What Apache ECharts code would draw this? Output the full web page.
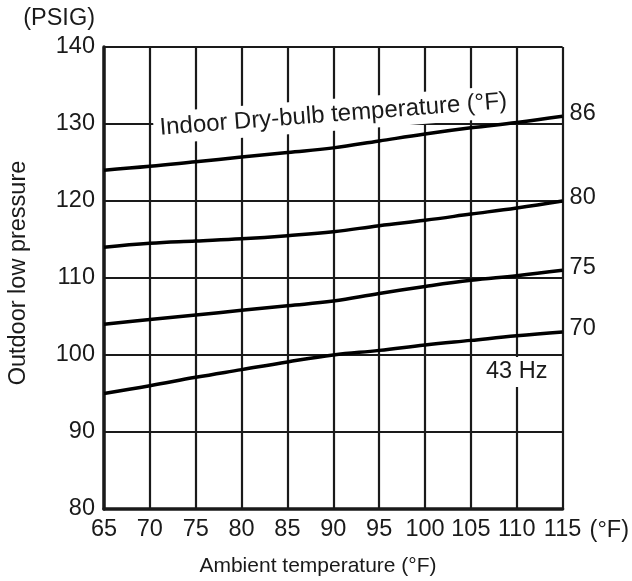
<!DOCTYPE html>
<html>
<head>
<meta charset="utf-8">
<script src="https://cdn.jsdelivr.net/npm/echarts@6/dist/echarts.min.js"></script>
<style>html,body{margin:0;padding:0;background:#fff;}#c{width:632px;height:581px;}</style>
</head>
<body>
<div id="c"></div>
<script>
const ambient = [65, 70, 75, 80, 85, 90, 95, 100, 105, 110, 115];
const xTicks = [65, 70, 75, 80, 85, 90, 95, 100, 105, 110, 115];
const yTicks = [80, 90, 100, 110, 120, 130, 140];
const indoorLabels = ['86', '80', '75', '70'];
const p86 = [124.0, 124.5, 125.1, 125.7, 126.3, 126.9, 127.8, 128.7, 129.5, 130.2, 131.0];
const p80 = [114.0, 114.5, 114.8, 115.1, 115.5, 116.0, 116.8, 117.5, 118.3, 119.1, 120.0];
const p75 = [104.0, 104.6, 105.2, 105.8, 106.4, 107.0, 108.0, 108.9, 109.7, 110.3, 111.0];
const p70 = [95.0, 96.0, 97.1, 98.1, 99.1, 100.0, 100.6, 101.3, 101.9, 102.5, 103.0];
const hzLabel = '43 Hz';
const curveTitle = 'Indoor Dry-bulb temperature (°F)';
const xTitle = 'Ambient temperature (°F)';
const yTitle = 'Outdoor low pressure';

const FONT = '"Liberation Sans", Arial, sans-serif';
const INK = '#1a1a1a';
const FS = 23.5;
const chart = echarts.init(document.getElementById('c'), null, {renderer: 'canvas'});

function mkSeries(vals, lab) {
  return {type: 'line', data: vals.map((v, i) => [ambient[i], v]),
    showSymbol: false, symbol: 'none', smooth: 0.4,
    lineStyle: {color: '#000', width: 3.5}, silent: true, z: 5,
    endLabel: {show: true, formatter: lab, distance: 7, color: INK, fontSize: FS,
      fontFamily: FONT, offset: [0, -3]}};
}

const series = [mkSeries(p86, indoorLabels[0]), mkSeries(p80, indoorLabels[1]),
  mkSeries(p75, indoorLabels[2]), mkSeries(p70, indoorLabels[3])];

chart.setOption({
  animation: false,
  backgroundColor: '#fff',
  grid: {left: 104, right: 68, top: 47, bottom: 72, show: false},
  xAxis: {
    type: 'value', min: xTicks[0], max: xTicks[xTicks.length - 1], interval: 5,
    name: '(°F)', nameLocation: 'end', nameGap: 27,
    nameTextStyle: {color: INK, fontSize: FS, fontFamily: FONT, verticalAlign: 'top', padding: [10, 0, 0, 0]},
    axisLine: {show: true, onZero: false, lineStyle: {color: INK, width: 3.5}},
    axisTick: {show: false},
    axisLabel: {color: INK, fontSize: FS, fontFamily: FONT, margin: 9, showMinLabel: true, showMaxLabel: true},
    splitLine: {show: true, lineStyle: {color: INK, width: 2.2}}
  },
  yAxis: {
    type: 'value', min: yTicks[0], max: yTicks[yTicks.length - 1], interval: 10,
    name: '(PSIG)', nameLocation: 'end', nameGap: 16,
    nameTextStyle: {color: INK, fontSize: FS, fontFamily: FONT, align: 'right', padding: [0, 9, 0, 0]},
    axisLine: {show: true, onZero: false, lineStyle: {color: INK, width: 3.5}},
    axisTick: {show: false},
    axisLabel: {color: INK, fontSize: FS, fontFamily: FONT, margin: 9},
    splitLine: {show: true, lineStyle: {color: INK, width: 2.2}}
  },
  series: series
});

function place() {
  const tp = chart.convertToPixel('grid', [90, 131.2]);
  const hz = chart.convertToPixel('grid', [110, 97.8]);
  chart.setOption({
    graphic: [
      {type: 'text', x: tp[0], y: tp[1], rotation: 4.4 * Math.PI / 180, z: 4,
        style: {text: curveTitle, fill: INK, fontSize: 24, fontFamily: FONT,
          align: 'center', verticalAlign: 'middle', backgroundColor: '#fff', padding: [4, 6]}},
      {type: 'text', x: hz[0], y: hz[1], z: 4,
        style: {text: hzLabel, fill: INK, fontSize: FS, fontFamily: FONT,
          align: 'center', verticalAlign: 'middle', backgroundColor: '#fff', padding: [3, 3]}},
      {type: 'text', x: 318, y: 566, z: 4,
        style: {text: xTitle, fill: INK, fontSize: 21, fontFamily: FONT,
          align: 'center', verticalAlign: 'middle'}},
      {type: 'text', x: 19, y: 273, rotation: Math.PI / 2, z: 4,
        style: {text: yTitle, fill: INK, fontSize: 23.5, fontFamily: FONT,
          align: 'center', verticalAlign: 'middle'}}
    ]
  });
}
place();
</script>
</body>
</html>
